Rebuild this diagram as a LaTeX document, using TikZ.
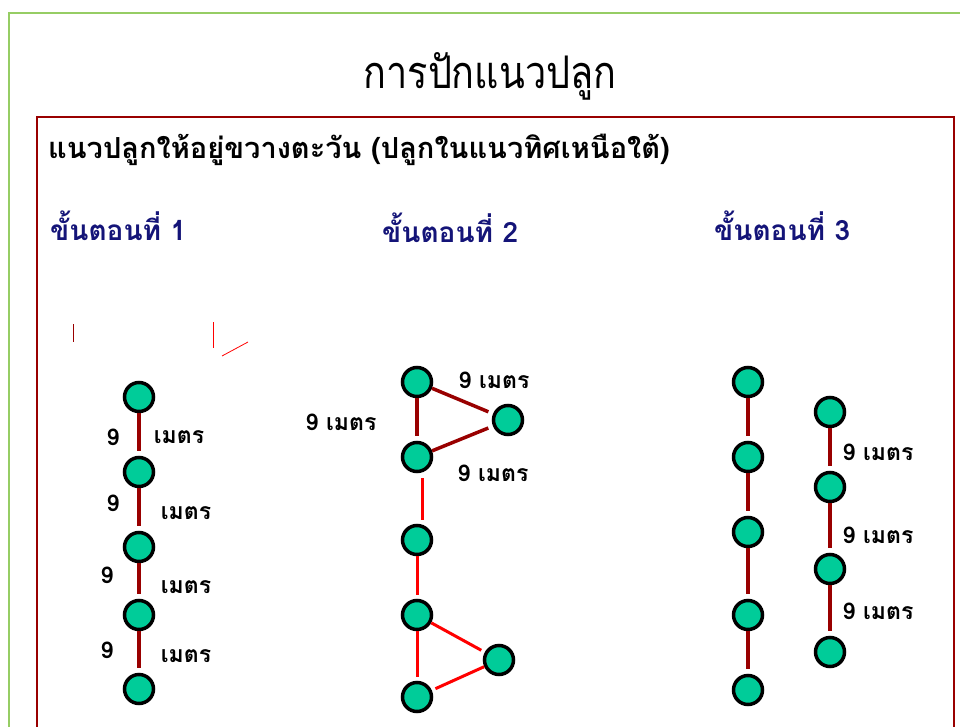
\documentclass[tikz,border=0pt]{standalone}
\usepackage{fontspec}
\newfontfamily\thaifont[Script=Thai]{Loma}
\usetikzlibrary{positioning}

\definecolor{plantgreen}{RGB}{0,204,153}
\definecolor{rowred}{RGB}{153,0,0}
\definecolor{lightred}{RGB}{255,0,0}
\definecolor{stepblue}{RGB}{20,20,120}
\definecolor{framegreen}{RGB}{150,205,100}

\tikzset{
  plant/.style={circle, draw=black, line width=3.5pt, fill=plantgreen,
    minimum size=29pt, inner sep=0pt},
  rowline/.style={draw=rowred, line width=3.5pt},
  newline/.style={draw=lightred, line width=3pt},
  dist/.style={font=\thaifont\bfseries\fontsize{23}{26}\selectfont, inner sep=0pt},
  stephead/.style={font=\thaifont\bfseries\fontsize{28}{32}\selectfont,
    text=stepblue, inner sep=0pt, anchor=west}
}

\begin{document}
\begin{tikzpicture}[x=1pt, y=-1pt]

        \useasboundingbox (0,0) rectangle (960,727);

        % frames
        \draw[framegreen, line width=2pt] (975,13) -- (9,13) -- (9,740);
        \draw[rowred, line width=2pt] (37,740) -- (37,117) -- (954,117) -- (954,740);

        % texts
        \node[font=\thaifont\fontsize{45}{50}\selectfont, inner sep=0pt] (title) at (490,76)
          {\scalebox{0.84}[1]{การปักแนวปลูก}};
        \node[font=\thaifont\bfseries\fontsize{29}{32}\selectfont, inner sep=0pt, anchor=west]
          (rule) at (48,150) {แนวปลูกให้อยู่ขวางตะวัน (ปลูกในแนวทิศเหนือใต้)};
        \node[stephead] (head1) at (50,226) {ขั้นตอนที่ 1};
        \node[stephead] (head2) at (382,228) {ขั้นตอนที่ 2};
        \node[stephead] (head3) at (714,226) {ขั้นตอนที่ 3};

        % stray marks
        \draw[rowred, line width=1pt] (73,324) -- (73,342);
        \draw[lightred, line width=1pt] (213,322) -- (213,348);
        \draw[lightred, line width=0.8pt] (222,356) -- (248,342);

        \begin{scope}[every node/.style={plant}]
          % step 1
          \node (a1) at (139,397) {};
          \node (a2) at (139,472) {};
          \node (a3) at (139,547) {};
          \node (a4) at (139,615) {};
          \node (a5) at (139,689) {};
          % step 2
          \node (b1) at (417,382) {};
          \node (b2) at (508,420) {};
          \node (b3) at (417,457) {};
          \node (b4) at (417,540) {};
          \node (b5) at (417,615) {};
          \node (b6) at (499,660) {};
          \node (b7) at (417,697) {};
          % step 3
          \node (c1) at (748,382) {};
          \node (c2) at (748,457) {};
          \node (c3) at (748,532) {};
          \node (c4) at (748,615) {};
          \node (c5) at (748,690) {};
          \node (d1) at (830,412) {};
          \node (d2) at (830,487) {};
          \node (d3) at (830,569) {};
          \node (d4) at (830,652) {};
        \end{scope}

        \begin{scope}[every edge/.style={rowline, shorten >=5pt}]
          \path (a1) edge (a2);
          \path (a2) edge (a3);
          \path (a3) edge (a4);
          \path (a4) edge (a5);
          \path (b1) edge (b3);
          \path (b1) edge (b2);
          \path (b3) edge (b2);
          \path (c1) edge (c2);
          \path (c2) edge (c3);
          \path (c3) edge (c4);
          \path (c4) edge (c5);
          \path (d1) edge (d2);
          \path (d2) edge (d3);
          \path (d3) edge (d4);
        \end{scope}

        \begin{scope}[every edge/.style={newline, shorten >=4pt}]
          \path ([xshift=5pt,yshift=-5pt]b3.south) edge ([xshift=5pt]b4.north);
          \path (b4) edge (b5);
          \path (b5) edge (b7);
          \path (b5) edge (b6);
          \path (b6) edge (b7);
        \end{scope}

        \begin{scope}[every node/.style={dist}]
          \node (n1) at (113,437) {9};
          \node (m1) at (179,437) {เมตร};
          \node (n2) at (113,503) {9};
          \node (m2) at (186,513) {เมตร};
          \node (n3) at (107,575) {9};
          \node (m3) at (186,587) {เมตร};
          \node (n4) at (107,650) {9};
          \node (m4) at (186,656) {เมตร};
          \node (l1) at (341,422) {9 เมตร};
          \node (l2) at (494,380) {9 เมตร};
          \node (l3) at (493,473) {9 เมตร};
          \node (l4) at (878,452) {9 เมตร};
          \node (l5) at (878,535) {9 เมตร};
          \node (l6) at (878,611) {9 เมตร};
        \end{scope}

      \end{tikzpicture}
\end{document}
